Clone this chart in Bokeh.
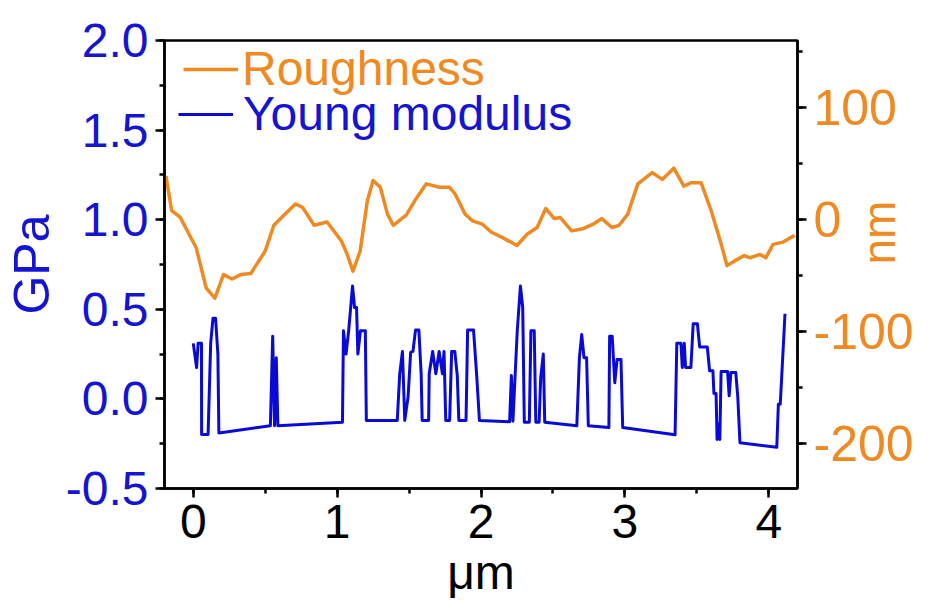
import math
from bokeh.plotting import figure
from bokeh.models import (Range1d, LinearAxis, SingleIntervalTicker, Legend, LegendItem,
                          NumeralTickFormatter)
from bokeh.embed import file_html
from bokeh.resources import INLINE

# ---- data ----
rough_x = [-0.19, -0.15, -0.09, 0.02, 0.09, 0.15, 0.21, 0.27, 0.33, 0.40,
           0.50, 0.56, 0.63, 0.71, 0.76, 0.84, 0.93, 1.03, 1.07, 1.11,
           1.16, 1.21, 1.25, 1.30, 1.35, 1.39, 1.48, 1.55, 1.62, 1.71,
           1.78, 1.82, 1.89, 1.94, 2.01, 2.07, 2.15, 2.25, 2.32, 2.39,
           2.45, 2.51, 2.55, 2.63, 2.71, 2.78, 2.84, 2.91, 2.96, 3.02,
           3.09, 3.19, 3.26, 3.34, 3.41, 3.46, 3.53, 3.60, 3.67, 3.71,
           3.76, 3.83, 3.87, 3.94, 3.98, 4.03, 4.10, 4.18]
rough_nm = [39, 8, 2, -25, -61, -70, -49, -53, -49, -48,
            -28, -5, 4, 14, 11, -5, -2, -19, -31, -46,
            -28, 17, 35, 29, 5, -5, 4, 19, 32, 29,
            29, 23, 5, -1, -4, -11, -16, -23, -13, -7,
            10, 1, 2, -10, -8, -4, 1, -7, -5, 5,
            32, 42, 36, 46, 30, 33, 33, 8, -22, -41,
            -37, -32, -34, -31, -34, -22, -20, -14]

young_x = [0.000, 0.023, 0.034, 0.057, 0.058, 0.103, 0.121, 0.137, 0.155, 0.171,
           0.178, 0.536, 0.552, 0.565, 0.577, 0.588, 1.037, 1.044, 1.062, 1.080,
           1.094, 1.107, 1.121, 1.135, 1.144, 1.162, 1.196, 1.203, 1.418, 1.435,
           1.454, 1.470, 1.493, 1.511, 1.527, 1.545, 1.568, 1.584, 1.591, 1.636,
           1.640, 1.664, 1.686, 1.709, 1.732, 1.743, 1.755, 1.782, 1.796, 1.818,
           1.835, 1.846, 1.896, 1.907, 1.948, 1.971, 1.989, 2.199, 2.211, 2.222,
           2.252, 2.274, 2.290, 2.301, 2.336, 2.347, 2.370, 2.381, 2.404, 2.415,
           2.433, 2.443, 2.666, 2.684, 2.700, 2.716, 2.734, 2.746, 2.889, 2.894,
           2.912, 2.930, 2.946, 2.973, 2.985, 3.349, 3.361, 3.390, 3.399, 3.413,
           3.422, 3.459, 3.475, 3.504, 3.520, 3.573, 3.589, 3.612, 3.619, 3.634,
           3.641, 3.650, 3.660, 3.669, 3.714, 3.725, 3.737, 3.771, 3.785, 3.800,
           4.056, 4.067, 4.080, 4.090, 4.113]
young_gpa = [0.31, 0.175, 0.31, 0.31, -0.198, -0.198, 0.31, 0.45, 0.45, 0.25,
             -0.19, -0.15, 0.35, -0.15, 0.23, -0.15, -0.13, 0.38, 0.25, 0.38,
             0.51, 0.63, 0.51, 0.51, 0.25, 0.38, 0.38, -0.12, -0.12, 0.14,
             0.265, -0.12, 0.01, 0.26, 0.265, 0.385, 0.385, 0.14, -0.12, -0.12,
             0.14, 0.265, 0.14, 0.265, 0.14, 0.265, -0.12, -0.12, 0.265, 0.265,
             0.13, -0.12, -0.12, 0.385, 0.385, 0.12, -0.12, -0.127, 0.13, -0.125,
             0.38, 0.63, 0.51, -0.13, -0.13, 0.38, 0.38, -0.13, -0.13, 0.12,
             0.25, -0.13, -0.15, 0.23, 0.36, 0.23, 0.23, -0.15, -0.16, 0.35,
             0.35, 0.09, 0.22, 0.22, -0.16, -0.20, 0.31, 0.31, 0.175, 0.31,
             0.175, 0.175, 0.42, 0.42, 0.29, 0.29, 0.157, 0.157, 0.03, 0.03,
             -0.226, -0.14, -0.226, 0.153, 0.153, 0.017, 0.147, 0.147, 0.01, -0.245,
             -0.27, -0.03, -0.03, 0.12, 0.475]

x_ticks_interval = 1
left_ticks_interval = 0.5
right_ticks_interval = 100

BLUE = "#0A0AD6"
BLUE_TXT = "#1414D2"
ORANGE = "#EF8A22"
FONT = "Liberation Sans"

p = figure(width=933, height=601, output_backend="svg", toolbar_location=None,
           x_range=Range1d(-0.2, 4.2), y_range=Range1d(-0.5, 2.0),
           min_border_left=153, min_border_right=136, min_border_top=40,
           min_border_bottom=113)
p.extra_y_ranges = {"nm": Range1d(-240, 160)}
p.xgrid.visible = False
p.ygrid.visible = False
p.outline_line_color = "black"
p.outline_line_width = 2.5
p.outline_line_alpha = 1
p.background_fill_color = "white"
p.border_fill_color = "white"

r_rough = p.line(rough_x, rough_nm, y_range_name="nm", line_color=ORANGE,
                 line_width=3.5, line_join="round")
r_young = p.line(young_x, young_gpa, line_color=BLUE, line_width=3,
                 line_join="round")

def style_axis(ax, color, fmt, size):
    ax.axis_line_width = 2.5
    ax.axis_line_color = "black"
    ax.major_tick_line_width = 2.5
    ax.minor_tick_line_width = 2.5
    ax.major_tick_line_color = "black"
    ax.minor_tick_line_color = "black"
    ax.major_tick_out = 9
    ax.major_tick_in = 0
    ax.minor_tick_out = 5
    ax.minor_tick_in = 0
    ax.major_label_text_font = FONT
    ax.major_label_text_font_size = size
    ax.major_label_text_color = color
    ax.major_label_standoff = 7
    ax.formatter = NumeralTickFormatter(format=fmt)
    ax.axis_label_text_font = FONT
    ax.axis_label_text_font_style = "normal"

# bottom axis
xa = p.xaxis[0]
xa.ticker = SingleIntervalTicker(interval=x_ticks_interval, num_minor_ticks=2)
style_axis(xa, "black", "0", "48px")
xa.axis_label = "\u03bcm"
xa.axis_label_text_font_size = "48px"
xa.axis_label_text_color = "black"
xa.axis_label_standoff = 5

# left axis
ya = p.yaxis[0]
ya.ticker = SingleIntervalTicker(interval=left_ticks_interval, num_minor_ticks=2)
style_axis(ya, BLUE_TXT, "0.0", "48px")
ya.axis_label = "GPa"
ya.axis_label_text_font_size = "50px"
ya.axis_label_text_color = BLUE_TXT
ya.axis_label_standoff = 3

# right axis
ra = LinearAxis(y_range_name="nm",
                ticker=SingleIntervalTicker(interval=right_ticks_interval, num_minor_ticks=2))
style_axis(ra, ORANGE, "0", "50px")
ra.axis_label = "nm"
ra.axis_label_text_font_size = "46px"
ra.axis_label_text_color = ORANGE
ra.axis_label_standoff = -38
ra.axis_label_orientation = math.pi / 2
p.add_layout(ra, "right")

def make_legend(label, renderer, color, loc, standoff):
    leg = Legend(items=[LegendItem(label=label, renderers=[renderer])],
                 location=loc, orientation="vertical")
    leg.label_text_font = FONT
    leg.label_text_font_size = "48px"
    leg.label_text_color = color
    leg.glyph_width = 55
    leg.glyph_height = 20
    leg.label_standoff = standoff
    leg.padding = 0
    leg.margin = 0
    leg.border_line_color = None
    leg.background_fill_alpha = 0
    return leg

p.add_layout(make_legend("Roughness", r_rough, ORANGE, (19, 392), 4))
p.add_layout(make_legend("Young modulus", r_young, BLUE_TXT, (14, 347), 10))

open("out.html", "w").write(file_html(p, INLINE))
